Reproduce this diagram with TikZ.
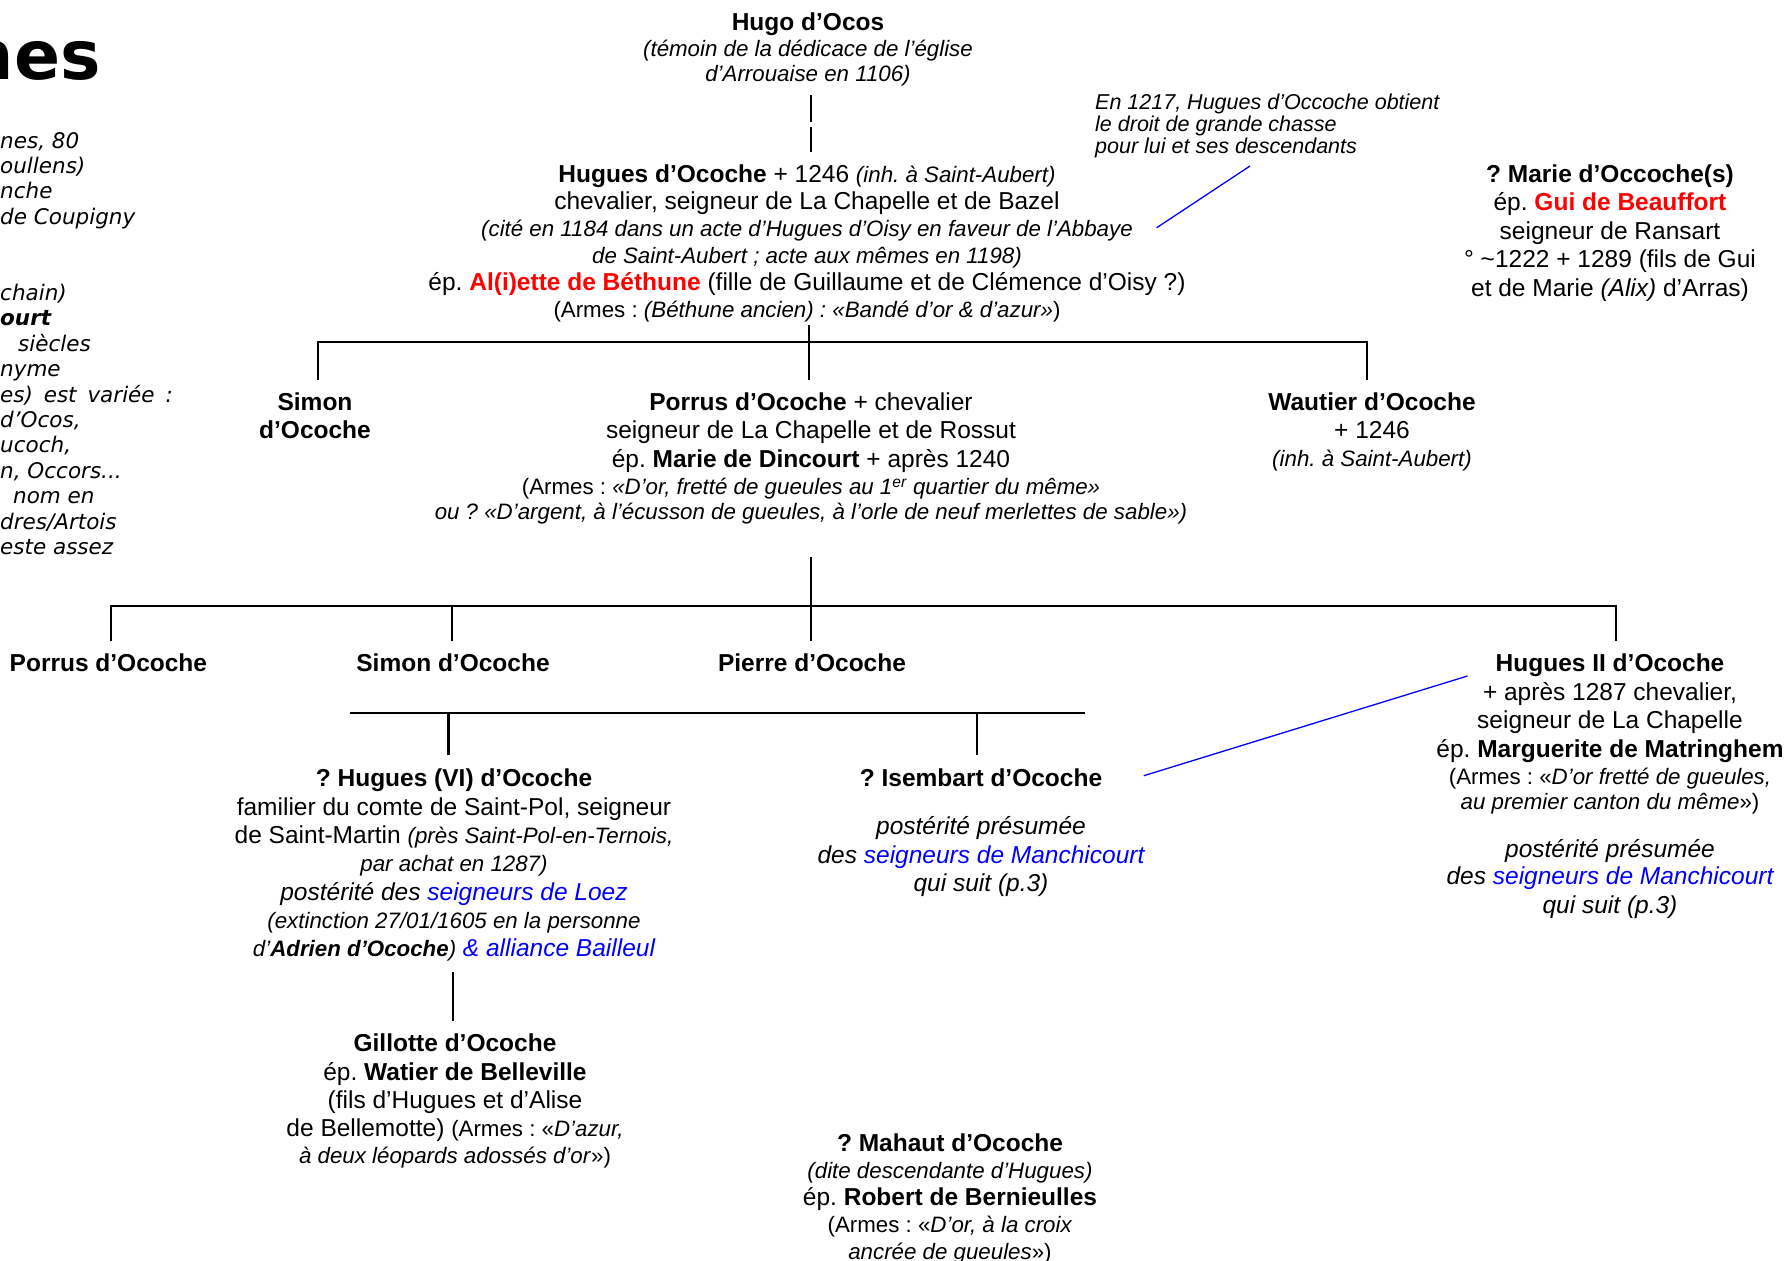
\documentclass[tikz,border=0pt]{standalone}
\usepackage{fontspec}
\setmainfont{Liberation Sans}
\newfontfamily\verd{DejaVu Sans}
\usepackage{xcolor}
\definecolor{lnk}{RGB}{0,0,255}
\definecolor{rd}{RGB}{255,0,0}
\newcommand\fs[2]{\fontsize{#1}{#2}\selectfont}
\newcommand\sm{\fontsize{22.3}{25}\selectfont}
\frenchspacing
\begin{document}
\begin{tikzpicture}[x=1pt,y=-1pt,
  blk/.style={align=center, inner sep=0pt, anchor=base},
  conn/.style={line width=2.2pt, line join=miter},
  bluel/.style={draw=lnk, line width=1.3pt}]
\useasboundingbox (0,0) rectangle (1789,1261);

% title and left column (anchor = baseline of last line)
\node[anchor=base east, inner sep=0pt, font=\verd\bfseries\fs{68}{68}] (title) at (101,79) {nes};
\node[anchor=base west, align=left, inner sep=0pt, font=\verd\itshape\fs{21.5}{25.4}] (side) at (0,554.4)
 {nes, 80\\oullens)\\nche\\de Coupigny\\[50.8pt]chain)\\\textbf{ourt}\\\hspace*{18pt}siècles\\nyme\\es)\ \hspace{4pt}est\ \hspace{4pt}variée\ \hspace{4pt}:\\d’Ocos,\\ucoch,\\n, Occors...\\\hspace*{13pt}nom en\\dres/Artois\\este assez};

% generation 1
\node[blk, font=\fs{24.5}{25.7}] (hugo) at (808,81.9)
 {\textbf{Hugo d’Ocos}\\{\sm\itshape (témoin de la dédicace de l’église}\\{\sm\itshape d’Arrouaise en 1106)}};

\node[blk, font=\fs{24.5}{27}] (hugues) at (807,317.2)
 {\textbf{Hugues d’Ocoche} + 1246 {\sm\itshape (inh. à Saint-Aubert)}\\
  chevalier, seigneur de La Chapelle et de Bazel\\
  {\sm\itshape (cité en 1184 dans un acte d’Hugues d’Oisy en faveur de l’Abbaye}\\
  {\sm\itshape de Saint-Aubert ; acte aux mêmes en 1198)}\\
  ép. \textcolor{rd}{\textbf{Al(i)ette de Béthune}} (fille de Guillaume et de Clémence d’Oisy ?)\\
  {\sm (Armes : \textit{(Béthune ancien) : «Bandé d’or \& d’azur»})}};

\node[anchor=base west, align=left, inner sep=0pt, font=\itshape\fs{21.5}{22.3}] (note) at (1095,153.6)
 {En 1217, Hugues d'Occoche obtient\\le droit de grande chasse\\pour lui et ses descendants};

\node[blk, font=\fs{24.5}{28.5}] (marie) at (1610,296.2)
 {\textbf{? Marie d’Occoche(s)}\\ép. \textcolor{rd}{\textbf{Gui de Beauffort}}\\seigneur de Ransart\\° \textasciitilde1222 + 1289 (fils de Gui\\et de Marie \textit{(Alix)} d’Arras)};

% generation 2
\node[blk, font=\fs{24.5}{28.4}] (simon) at (315,438.8) {\textbf{Simon}\\\textbf{d’Ocoche}};

\node[blk, font=\fs{24.5}{28.4}] (porrus) at (811,519.6)
 {\textbf{Porrus d’Ocoche} + chevalier\\
  seigneur de La Chapelle et de Rossut\\
  ép. \textbf{Marie de Dincourt} + après 1240\\[-1pt]
  {\sm (Armes : \textit{«D’or, fretté de gueules au 1\textsuperscript{er} quartier du même»}}\\[-3.4pt]
  {\sm\itshape ou ? «D’argent, à l’écusson de gueules, à l’orle de neuf merlettes de sable»)}};

\node[blk, font=\fs{24.5}{28}] (wautier) at (1372,466.4)
 {\textbf{Wautier d’Ocoche}\\+ 1246\\{\sm\itshape (inh. à Saint-Aubert)}};

% generation 3
\node[blk, font=\fs{24.5}{28.4}] (porrus2) at (108.4,671.8) {\textbf{Porrus d’Ocoche}};
\node[blk, font=\fs{24.5}{28.4}] (simon2) at (453,671.8) {\textbf{Simon d’Ocoche}};
\node[blk, font=\fs{24.5}{28.4}] (pierre) at (812,671.8) {\textbf{Pierre d’Ocoche}};

\node[blk, font=\fs{24.5}{28.5}] (hugues2) at (1610,913.3)
 {\textbf{Hugues II d’Ocoche}\\+ après 1287 chevalier,\\seigneur de La Chapelle\\
  ép. \textbf{Marguerite de Matringhem}\\[-1pt]
  {\sm (Armes : «\textit{D’or fretté de gueules,}}\\[-3.5pt]
  {\sm\textit{au premier canton du même}»)}\\[19.5pt]
  \textit{postérité présumée}\\[-1.5pt]
  \textit{des \textcolor{lnk}{seigneurs de Manchicourt}}\\
  \textit{qui suit (p.3)}};

% generation 4
\node[blk, font=\fs{24.5}{28.3}] (hugues6) at (454,956.6)
 {\textbf{? Hugues (VI) d’Ocoche}\\
  familier du comte de Saint-Pol, seigneur\\
  de Saint-Martin {\sm\itshape (près Saint-Pol-en-Ternois,}\\
  {\sm\itshape par achat en 1287)}\\
  \textit{postérité des \textcolor{lnk}{seigneurs de Loez}}\\
  {\sm\itshape (extinction 27/01/1605 en la personne}\\
  {\sm\itshape d’\textbf{Adrien d’Ocoche})} \textcolor{lnk}{\itshape \& alliance Bailleul}};

\node[blk, font=\fs{24.5}{28.4}] (isembart) at (981,891.6)
 {\textbf{? Isembart d’Ocoche}\\[19.6pt]
  \textit{postérité présumée}\\
  \textit{des \textcolor{lnk}{seigneurs de Manchicourt}}\\
  \textit{qui suit (p.3)}};

\node[blk, font=\fs{24.5}{28.3}] (gillotte) at (455,1163)
 {\textbf{Gillotte d’Ocoche}\\ép. \textbf{Watier de Belleville}\\(fils d’Hugues et d’Alise\\
  de Bellemotte) {\sm (Armes : «\textit{D’azur,}}\\[-2pt]
  {\sm\textit{à deux léopards adossés d’or}»)}};

\node[blk, font=\fs{24.5}{26.8}] (mahaut) at (950,1259)
 {\textbf{? Mahaut d’Ocoche}\\{\sm\itshape (dite descendante d’Hugues)}\\ép. \textbf{Robert de Bernieulles}\\
  {\sm (Armes : «\textit{D’or, à la croix}}\\{\sm\textit{ancrée de gueules}»)}};

% connector points
\coordinate (h1) at (811,95);  \coordinate (h2) at (811,122);
\coordinate (h3) at (811,127); \coordinate (h4) at (811,152);
\coordinate (p1top) at (809,325); \coordinate (p1bar) at (809,342);
\coordinate (b1l) at (318,342); \coordinate (b1r) at (1367,342);
\coordinate (d1a) at (318,380); \coordinate (d1b) at (809,380); \coordinate (d1c) at (1367,380);
\coordinate (p2top) at (811,557); \coordinate (p2bar) at (811,606);
\coordinate (b2l) at (110.7,606); \coordinate (b2r) at (1615.6,606);
\coordinate (d2a) at (110.7,641); \coordinate (d2b) at (451.8,606); \coordinate (d2bb) at (451.8,641);
\coordinate (d2c) at (811,641); \coordinate (d2d) at (1615.6,641);
\coordinate (b3l) at (350,713); \coordinate (b3r) at (1085,713);
\coordinate (d3a) at (448.4,713); \coordinate (d3ab) at (448.4,755);
\coordinate (d3b) at (976.7,713); \coordinate (d3bb) at (976.7,755);
\coordinate (g1) at (453,972); \coordinate (g2) at (453,1021);
\coordinate (n1) at (1250,166); \coordinate (n2) at (1156.7,227.7);
\coordinate (i1) at (1143.8,775.7); \coordinate (i2) at (1467.5,676);

% connectors
\draw[conn] (h1) -- (h2);
\draw[conn] (h3) -- (h4);
\draw[conn] (p1top) -- (p1bar);
\draw[conn] (d1a) -- (b1l) -- (b1r) -- (d1c);
\draw[conn] (p1bar) -- (d1b);
\draw[conn] (p2top) -- (p2bar);
\draw[conn] (d2a) -- (b2l) -- (b2r) -- (d2d);
\draw[conn] (d2b) -- (d2bb);
\draw[conn] (p2bar) -- (d2c);
\draw[conn] (b3l) -- (b3r);
\draw[conn] (d3a) -- (d3ab);
\draw[conn] (d3b) -- (d3bb);
\draw[conn] (g1) -- (g2);
\draw[bluel] (n1) -- (n2);
\draw[bluel] (i1) -- (i2);
\end{tikzpicture}
\end{document}
